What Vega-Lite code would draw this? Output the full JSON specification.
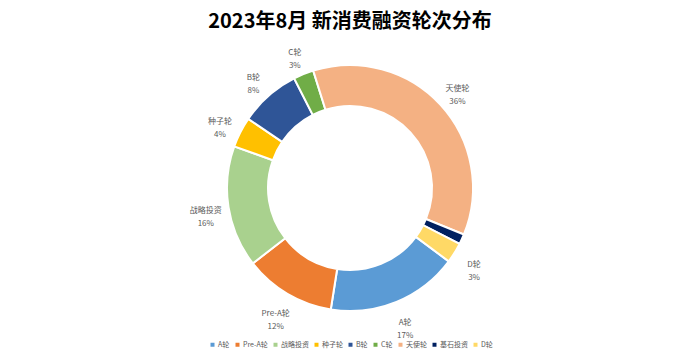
{
  "$schema": "https://vega.github.io/schema/vega-lite/v6.json",
  "width": 700,
  "height": 296,
  "autosize": {"type": "none"},
  "padding": {"top": 40, "left": 0, "right": 0, "bottom": 20},
  "background": "white",
  "title": {
    "text": "2023年8月 新消费融资轮次分布",
    "font": "Noto Sans CJK SC",
    "fontSize": 20,
    "fontWeight": "bold",
    "color": "#000000",
    "anchor": "middle",
    "offset": 8
  },
  "data": {
    "values": [
      {"name": "A轮", "count": 13, "order": 1, "label": "A轮\n17%"},
      {"name": "Pre-A轮", "count": 9, "order": 2, "label": "Pre-A轮\n12%"},
      {"name": "战略投资", "count": 12, "order": 3, "label": "战略投资\n16%"},
      {"name": "种子轮", "count": 3, "order": 4, "label": "种子轮\n4%"},
      {"name": "B轮", "count": 6, "order": 5, "label": "B轮\n8%"},
      {"name": "C轮", "count": 2, "order": 6, "label": "C轮\n3%"},
      {"name": "天使轮", "count": 27, "order": 7, "label": "天使轮\n36%"},
      {"name": "基石投资", "count": 1, "order": 8, "label": ""},
      {"name": "D轮", "count": 2, "order": 9, "label": "D轮\n3%"}
    ]
  },
  "encoding": {
    "theta": {"field": "count", "type": "quantitative", "stack": true, "scale": {"range": [2.2096, 8.4928]}},
    "order": {"field": "order", "type": "quantitative"}
  },
  "layer": [
    {
      "mark": {"type": "arc", "radius": 123, "radius2": 82, "stroke": "white", "strokeWidth": 2},
      "encoding": {
        "color": {
          "field": "name",
          "type": "nominal",
          "scale": {
            "domain": ["A轮", "Pre-A轮", "战略投资", "种子轮", "B轮", "C轮", "天使轮", "基石投资", "D轮"],
            "range": ["#5B9BD5", "#ED7D31", "#A9D18E", "#FFC000", "#2F5597", "#70AD47", "#F4B183", "#002060", "#FFD966"]
          },
          "legend": {
            "orient": "none",
            "legendX": 209,
            "legendY": 301,
            "direction": "horizontal",
            "title": null,
            "symbolType": "square",
            "symbolSize": 16,
            "symbolStrokeWidth": 0,
            "labelFont": "Noto Sans CJK SC",
            "labelFontSize": 7,
            "labelColor": "#595959",
            "labelOffset": 2,
            "columnPadding": 4
          }
        }
      }
    },
    {
      "mark": {"type": "text", "radius": 146, "font": "Noto Sans CJK SC", "fontSize": 8, "lineHeight": 13, "lineBreak": "\n", "color": "#595959"},
      "encoding": {
        "text": {"field": "label", "type": "nominal"}
      }
    }
  ]
}
